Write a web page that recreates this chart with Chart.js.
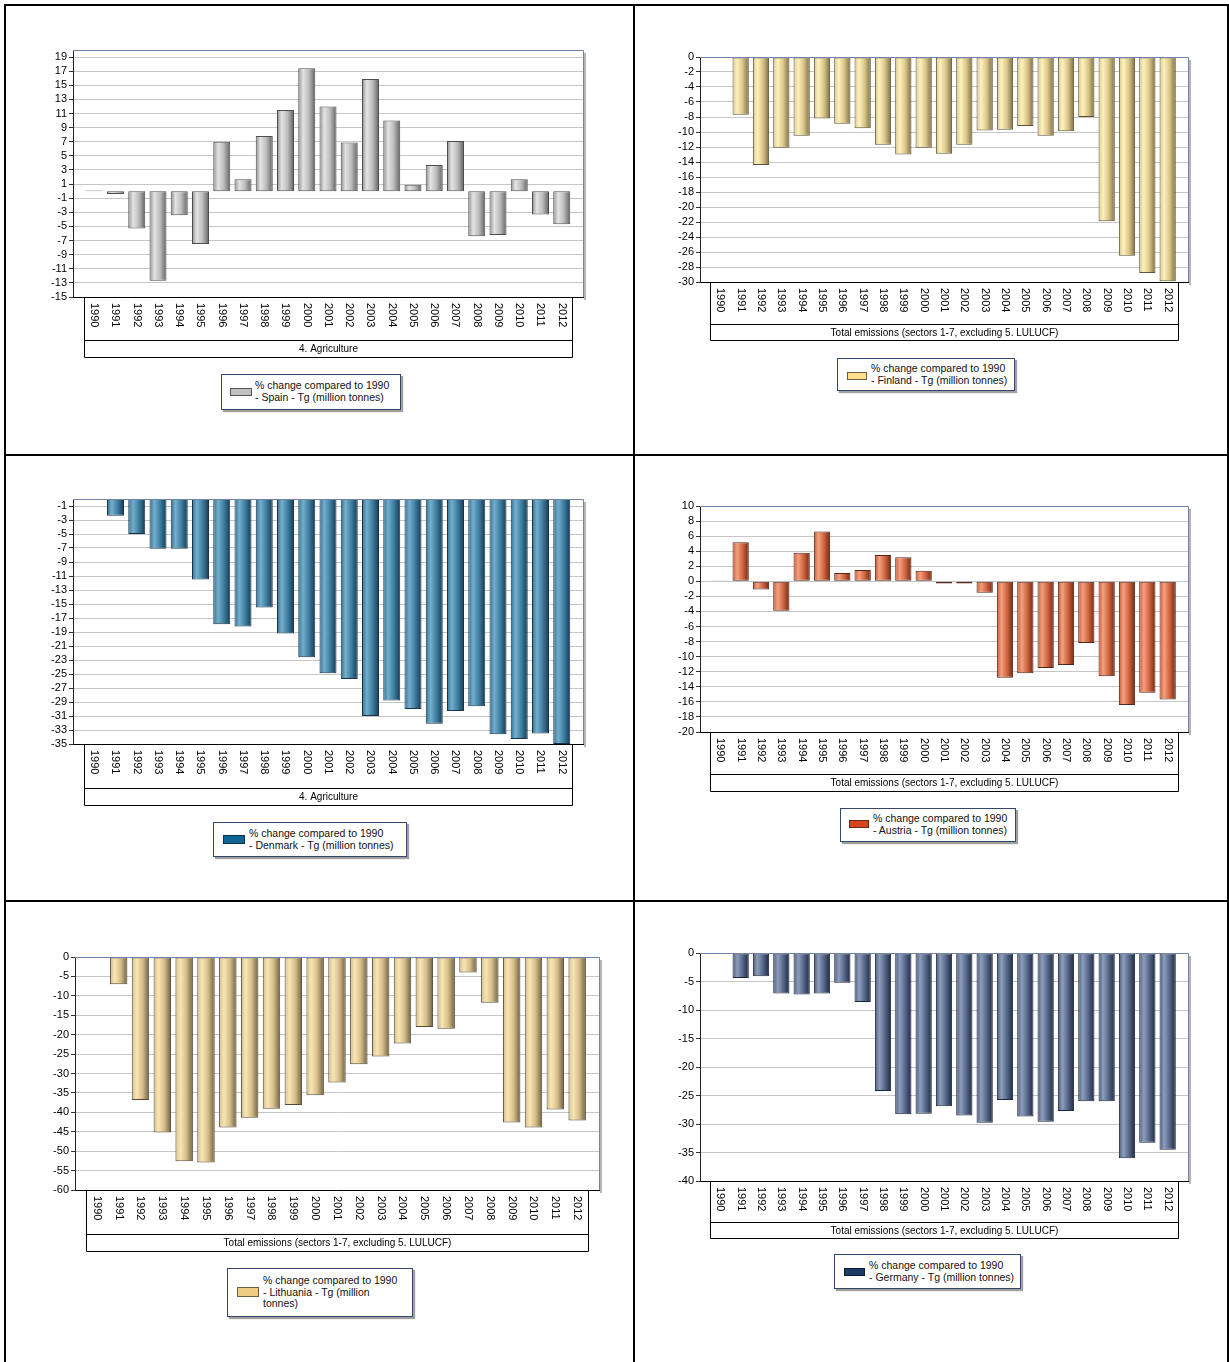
<!DOCTYPE html>
<html><head><meta charset="utf-8">
<script src="https://cdn.jsdelivr.net/npm/chart.js@4.4.1/dist/chart.umd.min.js"></script>
<style>
html,body{margin:0;padding:0;background:#fff;}
body{width:1229px;height:1362px;position:relative;overflow:hidden;font-family:"Liberation Sans",Arial,sans-serif;}
.ln{position:absolute;background:#000;}
.cv{position:absolute;}
.legend{position:absolute;box-sizing:border-box;background:#fff;border:1px solid #33466c;box-shadow:2px 2px 1px #a0a0a0;font-size:10.5px;line-height:11.5px;color:#111;}
.sw{position:absolute;box-sizing:border-box;border:1px solid #555;}
.lt{position:absolute;white-space:nowrap;}
</style></head><body>
<div class="ln" style="left:4px;top:4px;width:1225px;height:2px"></div>
<div class="ln" style="left:4px;top:4px;width:2px;height:1358px"></div>
<div class="ln" style="left:633px;top:4px;width:2px;height:1358px"></div>
<div class="ln" style="left:1227px;top:4px;width:2px;height:1358px"></div>
<div class="ln" style="left:4px;top:454px;width:1225px;height:2px"></div>
<div class="ln" style="left:4px;top:900px;width:1225px;height:2px"></div>
<script>
// ---------- DATA ----------
const years = ['1990','1991','1992','1993','1994','1995','1996','1997','1998','1999','2000','2001','2002','2003','2004','2005','2006','2007','2008','2009','2010','2011','2012'];
const spainValues     = [0.1, -0.4, -5.3, -12.7, -3.4, -7.5, 7.0, 1.7, 7.8, 11.5, 17.4, 12.0, 6.9, 15.9, 10.0, 0.9, 3.7, 7.1, -6.4, -6.2, 1.7, -3.3, -4.7];
const finlandValues   = [0, -7.7, -14.4, -12.1, -10.5, -8.2, -8.9, -9.5, -11.7, -13.0, -12.1, -12.9, -11.7, -9.8, -9.7, -9.2, -10.5, -9.9, -8.0, -21.9, -26.5, -28.8, -29.9];
const denmarkValues   = [0, -2.4, -5.0, -7.1, -7.1, -11.5, -17.9, -18.2, -15.5, -19.2, -22.6, -24.9, -25.7, -31.0, -28.8, -30.0, -32.1, -30.3, -29.6, -33.6, -34.3, -33.5, -35.0];
const austriaValues   = [0.05, 5.2, -1.1, -3.9, 3.8, 6.6, 1.1, 1.5, 3.5, 3.2, 1.4, -0.3, -0.3, -1.5, -12.8, -12.2, -11.5, -11.1, -8.2, -12.6, -16.4, -14.8, -15.7];
const lithuaniaValues = [0, -7.0, -36.8, -45.2, -52.6, -52.9, -43.9, -41.4, -39.1, -38.1, -35.6, -32.3, -27.6, -25.6, -22.3, -18.0, -18.5, -4.0, -11.8, -42.6, -43.9, -39.3, -42.1];
const germanyValues   = [0, -4.4, -4.1, -7.1, -7.3, -7.1, -5.2, -8.6, -24.2, -28.3, -28.2, -26.9, -28.5, -29.8, -25.8, -28.7, -29.6, -27.7, -26.0, -26.0, -36.0, -33.3, -34.5];

const spainTicks     = [19,17,15,13,11,9,7,5,3,1,-1,-3,-5,-7,-9,-11,-13,-15];
const finlandTicks   = [0,-2,-4,-6,-8,-10,-12,-14,-16,-18,-20,-22,-24,-26,-28,-30];
const denmarkTicks   = [-1,-3,-5,-7,-9,-11,-13,-15,-17,-19,-21,-23,-25,-27,-29,-31,-33,-35];
const austriaTicks   = [10,8,6,4,2,0,-2,-4,-6,-8,-10,-12,-14,-16,-18,-20];
const lithuaniaTicks = [0,-5,-10,-15,-20,-25,-30,-35,-40,-45,-50,-55,-60];
const germanyTicks   = [0,-5,-10,-15,-20,-25,-30,-35,-40];

const titleAgri  = '4. Agriculture';
const titleTotal = 'Total emissions (sectors 1-7, excluding 5. LULUCF)';
const legendHead = '% change compared to 1990';
const spainLegend     = ['- Spain - Tg (million tonnes)'];
const finlandLegend   = ['- Finland - Tg (million tonnes)'];
const denmarkLegend   = ['- Denmark - Tg (million tonnes)'];
const austriaLegend   = ['- Austria - Tg (million tonnes)'];
const lithuaniaLegend = ['- Lithuania - Tg (million', 'tonnes)'];
const germanyLegend   = ['- Germany - Tg (million tonnes)'];

// ---------- STYLES / LAYOUT ----------
const styles = {
  grey:   {stops:['#8e8e8e','#e4e4e4','#bcbcbc','#626262'], border:'#4e4e4e', swatch:'#c0c0c0', swBorder:'#555'},
  yellow: {stops:['#d8c690','#fff1bc','#d9c68a','#7c6d44'], border:'#5e5334', swatch:'#fde28c', swBorder:'#6a5e3a'},
  tan:    {stops:['#d2bd8c','#fae5b4','#d4bd88','#6e5f42'], border:'#544a36', swatch:'#efcd85', swBorder:'#6a5e3a'},
  teal:   {stops:['#2f6f92','#76aecc','#3d7fa2','#173a50'], border:'#173449', swatch:'#0e6493', swBorder:'#0a3550'},
  orange: {stops:['#c95a36','#f3a07f','#cf6440','#722812'], border:'#55251a', swatch:'#d8461d', swBorder:'#6a2a14'},
  navy:   {stops:['#4a5b7b','#8e9dbb','#56678a','#1d2940'], border:'#1d2638', swatch:'#1d3864', swBorder:'#0f1c34'}
};

const panels = [
  {values:spainValues, ticks:spainTicks, min:-15, max:20, title:titleAgri, legend:spainLegend, style:styles.grey,
   cv:{l:10,t:40,r:593,b:360}, plot:{L:73,T:50,R:583,B:297}, sep:340, boxB:357,
   lg:{l:221,t:374,w:180,h:36, swx:8,swy:13,sww:22,swh:8, tx:33,ty:5}},
  {values:finlandValues, ticks:finlandTicks, min:-30, max:0, title:titleTotal, legend:finlandLegend, style:styles.yellow,
   cv:{l:640,t:47,r:1198,b:343}, plot:{L:700,T:57,R:1188,B:282}, sep:324, boxB:340,
   lg:{l:837,t:358,w:178,h:33, swx:9,swy:13,sww:20,swh:8, tx:33,ty:4}},
  {values:denmarkValues, ticks:denmarkTicks, min:-35, max:0, title:titleAgri, legend:denmarkLegend, style:styles.teal,
   cv:{l:10,t:489,r:593,b:808}, plot:{L:73,T:499,R:583,B:744}, sep:788, boxB:805,
   lg:{l:213,t:822,w:194,h:35, swx:9,swy:12,sww:22,swh:9, tx:35,ty:5}},
  {values:austriaValues, ticks:austriaTicks, min:-20, max:10, title:titleTotal, legend:austriaLegend, style:styles.orange,
   cv:{l:640,t:496,r:1198,b:794}, plot:{L:700,T:506,R:1188,B:732}, sep:774, boxB:791,
   lg:{l:840,t:808,w:176,h:34, swx:8,swy:11,sww:20,swh:8, tx:32,ty:4}},
  {values:lithuaniaValues, ticks:lithuaniaTicks, min:-60, max:0, title:titleTotal, legend:lithuaniaLegend, style:styles.tan,
   cv:{l:10,t:947,r:609,b:1254}, plot:{L:75,T:957,R:599,B:1190}, sep:1234, boxB:1251,
   lg:{l:227,t:1268,w:186,h:49, swx:9,swy:18,sww:22,swh:10, tx:35,ty:6}},
  {values:germanyValues, ticks:germanyTicks, min:-40, max:0, title:titleTotal, legend:germanyLegend, style:styles.navy,
   cv:{l:640,t:943,r:1198,b:1241}, plot:{L:700,T:953,R:1188,B:1181}, sep:1222, boxB:1238,
   lg:{l:834,t:1254,w:187,h:35, swx:9,swy:13,sww:21,swh:8, tx:34,ty:5}}
];

const FONT = '"Liberation Sans", Arial, sans-serif';
const BAR_FRAC = 0.8;

function makePanel(p) {
  const cw = p.cv.r - p.cv.l, ch = p.cv.b - p.cv.t;
  const canvas = document.createElement('canvas');
  canvas.className = 'cv';
  canvas.width = cw; canvas.height = ch;
  canvas.style.left = p.cv.l + 'px'; canvas.style.top = p.cv.t + 'px';
  canvas.style.width = cw + 'px'; canvas.style.height = ch + 'px';
  document.body.appendChild(canvas);

  const st = p.style;
  const gradFn = (c) => {
    const chart = c.chart, xs = chart.scales && chart.scales.x;
    if (!xs || c.type !== 'data' || !isFinite(xs.getPixelForValue(0))) return st.swatch;
    const center = xs.getPixelForValue(c.dataIndex);
    const half = Math.abs(xs.getPixelForValue(1) - xs.getPixelForValue(0)) * BAR_FRAC / 2;
    const g = chart.ctx.createLinearGradient(center - half, 0, center + half, 0);
    g.addColorStop(0, st.stops[0]);
    g.addColorStop(0.28, st.stops[1]);
    g.addColorStop(0.62, st.stops[2]);
    g.addColorStop(1, st.stops[3]);
    return g;
  };

  const decor = {
    id: 'decor',
    afterDraw(chart) {
      const ctx = chart.ctx, a = chart.chartArea, xs = chart.scales.x;
      const sepY = p.sep - p.cv.t, boxY = p.boxB - p.cv.t;
      ctx.save();
      // plot frame top/right with shadow
      ctx.fillStyle = 'rgba(120,120,120,0.55)';
      ctx.fillRect(a.right + 1, a.top + 3, 2, a.bottom - a.top);
      ctx.strokeStyle = '#7183a6'; ctx.lineWidth = 1;
      ctx.beginPath();
      ctx.moveTo(a.left, a.top + 0.5); ctx.lineTo(a.right + 0.5, a.top + 0.5); ctx.lineTo(a.right + 0.5, a.bottom);
      ctx.stroke();
      // year labels, rotated clockwise
      ctx.fillStyle = '#000';
      ctx.font = '11px ' + FONT;
      ctx.textAlign = 'left'; ctx.textBaseline = 'middle';
      years.forEach((lab, i) => {
        const px = xs.getPixelForValue(i);
        ctx.save(); ctx.translate(px, a.bottom + 6); ctx.rotate(Math.PI / 2);
        ctx.fillText(lab, 0, 0); ctx.restore();
      });
      // category box
      const bl = Math.round(xs.getPixelForValue(-0.5)) + 0.5;
      const br = Math.round(xs.getPixelForValue(years.length - 0.5)) + 0.5;
      ctx.strokeStyle = '#000'; ctx.lineWidth = 1;
      ctx.beginPath();
      ctx.moveTo(bl, a.bottom); ctx.lineTo(bl, boxY + 0.5); ctx.lineTo(br, boxY + 0.5); ctx.lineTo(br, a.bottom);
      ctx.moveTo(bl, sepY + 0.5); ctx.lineTo(br, sepY + 0.5);
      ctx.stroke();
      ctx.font = '10px ' + FONT; ctx.textAlign = 'center';
      ctx.fillText(p.title, (bl + br) / 2, (sepY + boxY) / 2 + 1);
      ctx.restore();
    }
  };

  new Chart(canvas, {
    type: 'bar',
    data: {
      datasets: [{
        data: p.values.map((v, i) => ({x: i, y: v})),
        backgroundColor: gradFn,
        borderColor: st.border,
        borderWidth: 1,
        borderSkipped: false,
        barPercentage: BAR_FRAC,
        categoryPercentage: 1
      }]
    },
    options: {
      responsive: false, animation: false, devicePixelRatio: 1,
      layout: {padding: {left: 0, top: p.plot.T - p.cv.t, right: p.cv.r - p.plot.R, bottom: 0}},
      plugins: {legend: {display: false}, tooltip: {enabled: false}, title: {display: false}},
      scales: {
        x: {
          type: 'linear', min: -1, max: years.length, offset: false,
          ticks: {display: false}, grid: {display: false},
          border: {display: true, color: '#000', width: 1},
          afterFit: (s) => { s.height = p.cv.b - p.plot.B; }
        },
        y: {
          type: 'linear', min: p.min, max: p.max,
          afterBuildTicks: (s) => { s.ticks = p.ticks.map(v => ({value: v})); },
          afterFit: (s) => { s.width = p.plot.L - p.cv.l; },
          ticks: {autoSkip: false, color: '#000', padding: 2, font: {family: FONT, size: 11},
                  callback: (v) => String(v)},
          grid: {color: '#c6c6c6', lineWidth: 1, drawTicks: true, tickLength: 4, tickColor: '#333'},
          border: {display: true, color: '#222', width: 1}
        }
      }
    },
    plugins: [decor]
  });

  // legend (HTML)
  const lg = document.createElement('div');
  lg.className = 'legend';
  Object.assign(lg.style, {left: p.lg.l + 'px', top: p.lg.t + 'px', width: p.lg.w + 'px', height: p.lg.h + 'px'});
  const sw = document.createElement('div');
  sw.className = 'sw';
  Object.assign(sw.style, {left: p.lg.swx + 'px', top: p.lg.swy + 'px', width: p.lg.sww + 'px', height: p.lg.swh + 'px',
    background: st.swatch, borderColor: st.swBorder});
  lg.appendChild(sw);
  const tx = document.createElement('div');
  tx.className = 'lt';
  Object.assign(tx.style, {left: p.lg.tx + 'px', top: p.lg.ty + 'px'});
  [legendHead].concat(p.legend).forEach((line, k) => {
    if (k) tx.appendChild(document.createElement('br'));
    tx.appendChild(document.createTextNode(line));
  });
  lg.appendChild(tx);
  document.body.appendChild(lg);
}

panels.forEach(makePanel);
</script>
</body></html>
